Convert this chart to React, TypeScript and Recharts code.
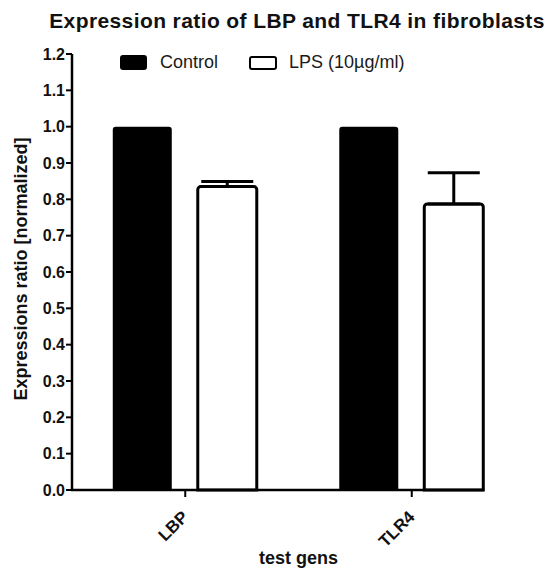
import { BarChart, Bar, XAxis, YAxis, Legend, ErrorBar, ReferenceLine, Label } from 'recharts';

const genes = ['LBP', 'TLR4'];
const controlValues = [1.0, 1.0];
const lpsValues = [0.835, 0.787];
const lpsErrors = [0.014, 0.086];
const yTicks = [0, 0.1, 0.2, 0.3, 0.4, 0.5, 0.6, 0.7, 0.8, 0.9, 1.0, 1.1, 1.2];

const FONT = '"Liberation Sans", Arial, sans-serif';
const CATEGORY_GAP = 0.18;

const data = genes.map((g, i) => ({
  gene: g,
  control: controlValues[i],
  lps: lpsValues[i],
  lpsErr: [0, lpsErrors[i]],
}));

function GeneTick({ x, y, payload }: any) {
  const ax = x + 4;
  const ay = y + 19;
  return (
    <text
      x={ax}
      y={ay}
      transform={`rotate(-45, ${ax}, ${ay})`}
      textAnchor="end"
      fontSize={17}
      fontWeight="bold"
      fontFamily={FONT}
      fill="#111"
    >
      {payload.value}
    </text>
  );
}

function LegendBox() {
  return (
    <div style={{ display: 'flex', alignItems: 'center', fontFamily: FONT, fontSize: 18, color: '#1a1a1a' }}>
      <span style={{ width: 27, height: 15, background: '#000', borderRadius: 3, display: 'inline-block' }} />
      <span style={{ marginLeft: 13 }}>Control</span>
      <span
        style={{
          width: 24,
          height: 10,
          border: '2.5px solid #000',
          borderRadius: 3,
          display: 'inline-block',
          marginLeft: 31,
        }}
      />
      <span style={{ marginLeft: 12 }}>LPS (10µg/ml)</span>
    </div>
  );
}

function XAxisLine(p: any) {
  // the axis stops at the outer edge of the last bar, like GraphPad does
  const end = p.x2 - (CATEGORY_GAP * (p.x2 - p.x1)) / genes.length;
  return <line x1={p.x1 - 1} y1={p.y1} x2={end} y2={p.y2} stroke="#000" strokeWidth={2.5} />;
}

export default function App() {
  return (
    <div style={{ position: 'absolute', left: 0, top: 0, width: 552, height: 569, background: '#fff' }}>
      <div
        style={{
          position: 'absolute',
          top: 9,
          left: 0,
          width: 594,
          textAlign: 'center',
          fontFamily: FONT,
          fontWeight: 'bold',
          fontSize: 21,
          letterSpacing: 0.4,
          color: '#111',
          whiteSpace: 'nowrap',
        }}
      >
        Expression ratio of LBP and TLR4 in fibroblasts
      </div>
      <BarChart
        width={552}
        height={569}
        data={data}
        margin={{ top: 54, right: 27, bottom: 0, left: 0 }}
        barCategoryGap={`${CATEGORY_GAP * 100}%`}
        barGap={26}
      >
        <XAxis
          dataKey="gene"
          height={79}
          axisLine={false}
          tickLine={{ stroke: '#000', strokeWidth: 2 }}
          tickSize={7}
          tick={<GeneTick />}
          interval={0}
        >
          <Label
            value="test gens"
            position="insideBottom"
            offset={5}
            style={{ fontFamily: FONT, fontWeight: 'bold', fontSize: 18, fill: '#111' }}
          />
        </XAxis>
        <YAxis
          width={72}
          domain={[0, 1.2]}
          ticks={yTicks}
          interval={0}
          tickFormatter={(v: number) => v.toFixed(1)}
          axisLine={{ stroke: '#000', strokeWidth: 2.5 }}
          tickLine={{ stroke: '#000', strokeWidth: 2 }}
          tickSize={6}
          tickMargin={1}
          tick={{ fontSize: 16, fontWeight: 'bold', fontFamily: FONT, fill: '#111' }}
        >
          <Label
            content={({ viewBox }: any) => {
              const cx = viewBox.x + 21;
              const cy = viewBox.y + viewBox.height / 2 - 3;
              return (
                <text
                  x={cx}
                  y={cy}
                  transform={`rotate(-90, ${cx}, ${cy})`}
                  textAnchor="middle"
                  dominantBaseline="central"
                  fontFamily={FONT}
                  fontWeight="bold"
                  fontSize={18}
                  fill="#111"
                >
                  Expressions ratio [normalized]
                </text>
              );
            }}
          />
        </YAxis>
        <Legend
          verticalAlign="middle"
          content={() => <LegendBox />}
          wrapperStyle={{ position: 'absolute', top: 52, left: 120, width: 'auto' }}
        />
        <Bar dataKey="control" fill="#000" radius={[3, 3, 0, 0]} isAnimationActive={false} />
        <Bar
          dataKey="lps"
          fill="#fff"
          stroke="#000"
          strokeWidth={3}
          radius={[3, 3, 0, 0]}
          isAnimationActive={false}
        >
          <ErrorBar dataKey="lpsErr" width={26} stroke="#000" strokeWidth={3} direction="y" />
        </Bar>
        <ReferenceLine y={0} shape={XAxisLine} />
      </BarChart>
    </div>
  );
}
